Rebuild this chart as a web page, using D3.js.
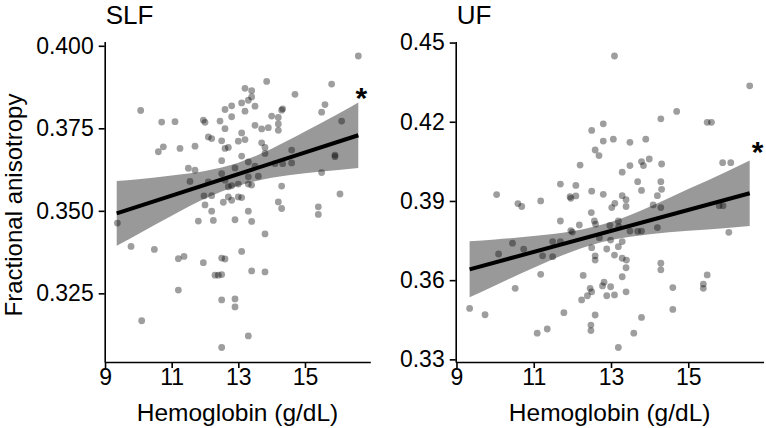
<!DOCTYPE html>
<html>
<head>
<meta charset="utf-8">
<script src="https://cdn.jsdelivr.net/npm/d3@7"></script>
<style>
  html, body { margin: 0; padding: 0; background: #fff; }
  svg { display: block; font-family: "Liberation Sans", Arial, Helvetica, sans-serif; }
</style>
</head>
<body>
<svg id="chart" width="766" height="428"></svg>
<script>
// ---------------- DATA ----------------
const panelTitles = ["SLF", "UF"];
const xLabel = "Hemoglobin (g/dL)";
const yLabel = "Fractional anisotropy";
const xTicks = [9, 11, 13, 15];
const slfYTicks = [0.325, 0.350, 0.375, 0.400];
const ufYTicks = [0.33, 0.36, 0.39, 0.42, 0.45];
const slfYTickLabels = ["0.325", "0.350", "0.375", "0.400"];
const ufYTickLabels = ["0.33", "0.36", "0.39", "0.42", "0.45"];
const significance = ["*", "*"];

const slfHb = [16.6,15.8,14.7,13.85,13.2,13.4,13.4,13.3,13.1,13.5,12.8,12.6,13.2,10.07,14.33,14.3,14.0,14.2,12.8,15.6,
  15.5,16.1,10.7,11.1,11.95,12.0,12.45,12.6,13.5,13.7,13.9,14.2,14.2,13.1,13.0,13.2,12.5,12.1,12.2,13.7,
  13.8,12.6,12.7,11.7,11.25,10.75,10.6,13.8,13.1,14.6,14.6,14.1,14.33,13.3,12.5,12.9,13.5,11.5,11.7,15.9,
  15.9,12.5,13.6,13.3,15.5,11.55,12.1,12.6,12.7,12.8,13.0,13.3,13.4,14.3,11.97,12.2,12.7,13.0,13.1,12.8,
  12.55,12.0,14.2,16.05,14.3,15.4,15.4,12.2,13.3,11.8,12.25,12.9,13.4,9.37,13.8,9.78,10.48,11.2,11.37,13.1,
  11.95,12.5,12.6,12.3,12.4,12.5,13.4,13.8,11.2,12.5,12.9,12.9,10.1,13.3,12.5];
const slfFa = [0.3969,0.3884,0.3853,0.3892,0.3871,0.3864,0.3845,0.3835,0.3827,0.3817,0.3818,0.3807,0.3802,0.3804,0.3809,0.3805,0.3787,0.3783,0.3785,0.3822,
  0.3799,0.3772,0.3769,0.3770,0.3775,0.3768,0.3772,0.3749,0.3759,0.3748,0.3752,0.3763,0.3744,0.3736,0.3711,0.3716,0.3712,0.3724,0.3719,0.3706,
  0.3692,0.3689,0.3692,0.3696,0.3689,0.3694,0.3679,0.3674,0.3666,0.3684,0.3645,0.3643,0.3643,0.3648,0.3652,0.3630,0.3635,0.3629,0.3623,0.3664,
  0.3669,0.3613,0.3605,0.3603,0.3616,0.3589,0.3588,0.3593,0.3573,0.3576,0.3581,0.3581,0.3578,0.3575,0.3545,0.3546,0.3542,0.3542,0.3540,0.3532,
  0.3526,0.3518,0.3527,0.3551,0.3507,0.3512,0.3489,0.3499,0.3499,0.3469,0.3471,0.3473,0.3468,0.3463,0.3430,0.3392,0.3383,0.3355,0.3362,0.3377,
  0.3343,0.3357,0.3354,0.3305,0.3305,0.3307,0.3318,0.3315,0.3260,0.3230,0.3233,0.3209,0.3167,0.3121,0.3086];

const ufHb = [13.09,16.59,14.70,14.29,15.49,15.60,12.5,12.8,12.8,13.06,13.49,13.9,12.59,12.69,12.2,13.79,13.84,13.99,13.49,14.31,
  15.89,16.1,13.29,13.69,13.79,14.29,14.31,14.2,11.69,12.09,11.94,11.96,12.09,12.5,12.8,13.29,13.39,10.04,10.59,10.69,
  11.18,13.1,13.02,13.39,14.09,14.29,12.49,15.8,15.9,11.69,12.57,12.6,12.18,11.96,12.0,12.97,13.19,13.2,13.49,13.69,
  13.79,14.2,16.05,11.49,11.69,10.45,10.74,10.09,11.23,11.49,12.7,12.99,13.29,12.5,12.89,13.19,13.09,12.59,12.59,13.29,
  13.4,13.39,14.29,14.29,11.18,12.28,13.29,10.52,12.46,12.82,12.78,12.99,14.6,15.39,15.49,15.39,12.5,12.39,12.24,12.89,
  13.09,13.39,9.34,9.74,11.78,12.59,13.79,14.6,12.48,12.48,11.09,11.35,13.59,13.19];
const ufFa = [0.4449,0.4336,0.4239,0.4211,0.4198,0.4198,0.4167,0.4192,0.4127,0.4134,0.4122,0.4134,0.4093,0.4072,0.4036,0.4049,0.4034,0.4059,0.4034,0.4040,
  0.4045,0.4045,0.4009,0.3973,0.3940,0.3973,0.3944,0.3920,0.3964,0.3959,0.3916,0.3910,0.3919,0.3937,0.3925,0.3920,0.3905,0.3924,0.3890,0.3879,
  0.3900,0.3891,0.3875,0.3879,0.3885,0.3875,0.3856,0.3882,0.3882,0.3824,0.3824,0.3812,0.3809,0.3788,0.3782,0.3807,0.3824,0.3803,0.3786,0.3785,
  0.3786,0.3799,0.3781,0.3746,0.3746,0.3740,0.3717,0.3699,0.3692,0.3689,0.3761,0.3752,0.3746,0.3723,0.3718,0.3727,0.3695,0.3692,0.3676,0.3683,
  0.3676,0.3647,0.3664,0.3639,0.3622,0.3618,0.3613,0.3569,0.3569,0.3592,0.3578,0.3575,0.3572,0.3585,0.3620,0.3569,0.3556,0.3541,0.3525,0.3541,
  0.3544,0.3556,0.3493,0.3469,0.3477,0.3468,0.3459,0.3489,0.3430,0.3409,0.3399,0.3415,0.3399,0.3345];

// fitted line and confidence band
const slfFitHb = [9.35, 16.6];
const slfFitFa = [0.3492, 0.3729];
const slfBandHb = [9.35, 10, 11, 12, 13, 14, 15, 16, 16.6];
const slfBandLo = [0.3394, 0.3430, 0.3485, 0.3537, 0.3576, 0.3600, 0.3614, 0.3624, 0.3630];
const slfBandHi = [0.3590, 0.3596, 0.3607, 0.3621, 0.3646, 0.3688, 0.3740, 0.3794, 0.3828];

const ufFitHb = [9.34, 16.59];
const ufFitFa = [0.3641, 0.3929];
const ufBandHb = [9.34, 10, 11, 12, 13, 14, 15, 16, 16.59];
const ufBandLo = [0.3535, 0.3580, 0.3647, 0.3709, 0.3752, 0.3774, 0.3787, 0.3798, 0.3805];
const ufBandHi = [0.3747, 0.3754, 0.3767, 0.3785, 0.3820, 0.3878, 0.3945, 0.4012, 0.4053];

// ---------------- DRAW ----------------
const svg = d3.select("#chart");
const TICK_FONT = 23;
const LABEL_FONT = 24.5;
const YLABEL_FONT = 24;
const TITLE_FONT = 26;

const panels = [
  { title: panelTitles[0], hb: slfHb, fa: slfFa, fitHb: slfFitHb, fitFa: slfFitFa,
    bandHb: slfBandHb, lo: slfBandLo, hi: slfBandHi, yTicks: slfYTicks, yTickLabels: slfYTickLabels,
    xDomain: [8.99, 16.96], yDomain: [0.3042, 0.4013], xRange: [104.7, 370.3], sig: significance[0],
    sigDx: 3, sigDy: 12, yTitle: true },
  { title: panelTitles[1], hb: ufHb, fa: ufFa, fitHb: ufFitHb, fitFa: ufFitFa,
    bandHb: ufBandHb, lo: ufBandLo, hi: ufBandHi, yTicks: ufYTicks, yTickLabels: ufYTickLabels,
    xDomain: [8.98, 16.95], yDomain: [0.3290, 0.4504], xRange: [455.7, 763.6], sig: significance[1],
    sigDx: 8, sigDy: 16, yTitle: false }
];

const yRange = [362, 41.5];

panels.forEach(p => {
  const x = d3.scaleLinear().domain(p.xDomain).range(p.xRange);
  const y = d3.scaleLinear().domain(p.yDomain).range(yRange);
  const g = svg.append("g");

  // confidence band
  const bandData = p.bandHb.map((h, i) => ({ h, lo: p.lo[i], hi: p.hi[i] }));
  g.append("path")
    .datum(bandData)
    .attr("fill", "#999999")
    .attr("d", d3.area().curve(d3.curveMonotoneX)
      .x(d => x(d.h)).y0(d => y(d.lo)).y1(d => y(d.hi)));

  // points
  g.append("g").selectAll("circle")
    .data(p.hb.map((h, i) => ({ h, f: p.fa[i] })))
    .join("circle")
    .attr("cx", d => x(d.h))
    .attr("cy", d => y(d.f))
    .attr("r", 3.4)
    .attr("fill", "#000")
    .attr("fill-opacity", 0.38);

  // fit line
  g.append("path")
    .datum(p.fitHb.map((h, i) => ({ h, f: p.fitFa[i] })))
    .attr("fill", "none")
    .attr("stroke", "#000")
    .attr("stroke-width", 4)
    .attr("d", d3.line().x(d => x(d.h)).y(d => y(d.f)));

  // axes
  const xAxis = d3.axisBottom(x).tickValues(xTicks).tickFormat(d3.format("d"))
    .tickSize(6).tickSizeOuter(0).tickPadding(1);
  const gx = g.append("g").attr("transform", `translate(0,${yRange[0]})`).call(xAxis);
  const yAxis = d3.axisLeft(y).tickValues(p.yTicks).tickFormat((d, i) => p.yTickLabels[i])
    .tickSize(6).tickSizeOuter(0).tickPadding(5);
  const gy = g.append("g").attr("transform", `translate(${p.xRange[0]},0)`).call(yAxis);
  [gx, gy].forEach(a => {
    a.select(".domain").attr("stroke", "#000").attr("stroke-width", 1.6);
    a.selectAll(".tick line").attr("stroke", "#000").attr("stroke-width", 1.6);
    a.selectAll(".tick text").attr("fill", "#000")
      .style("font-size", TICK_FONT + "px")
      .style("font-family", "'Liberation Sans', Arial, sans-serif");
  });

  // titles
  g.append("text")
    .attr("x", p.xRange[0] + 1)
    .attr("y", 24)
    .style("font-size", TITLE_FONT + "px")
    .attr("fill", "#000")
    .text(p.title);

  g.append("text")
    .attr("x", (p.xRange[0] + p.xRange[1]) / 2)
    .attr("y", 421)
    .attr("text-anchor", "middle")
    .style("font-size", LABEL_FONT + "px")
    .attr("fill", "#000")
    .text(xLabel);

  if (p.yTitle) {
    g.append("text")
      .attr("transform", `translate(22,205) rotate(-90)`)
      .attr("text-anchor", "middle")
      .style("font-size", YLABEL_FONT + "px")
      .attr("fill", "#000")
      .text(yLabel);
  }

  // significance asterisk
  const n = p.bandHb.length - 1;
  g.append("text")
    .attr("x", x(p.bandHb[n]) + p.sigDx)
    .attr("y", y(p.hi[n]) - p.sigDy + 17)
    .attr("text-anchor", "middle")
    .style("font-size", "30px")
    .style("font-weight", "bold")
    .attr("fill", "#000")
    .text(p.sig);
});
</script>
</body>
</html>
